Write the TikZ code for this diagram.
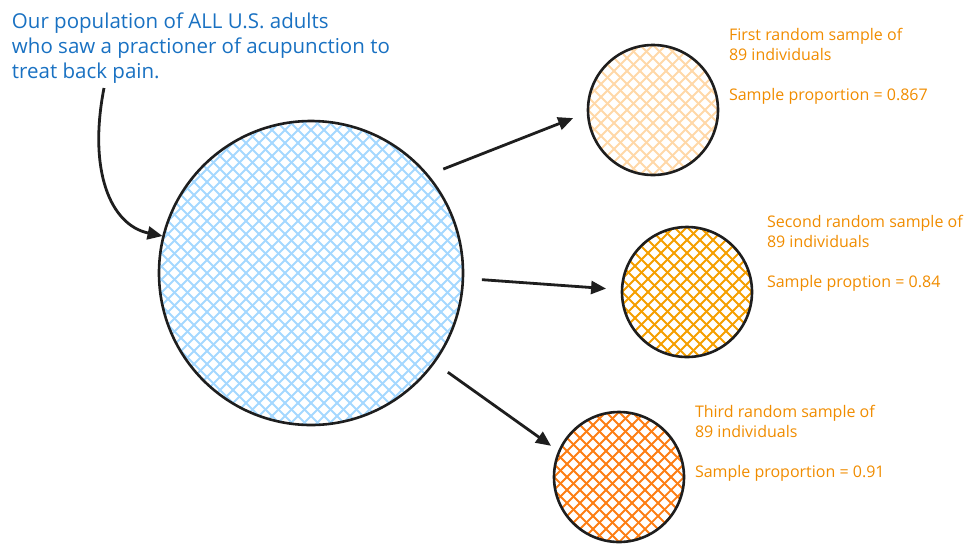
\documentclass[tikz,border=0pt]{standalone}
\usepackage{fontspec}
\setmainfont{Open Sans}
\usetikzlibrary{arrows.meta}
\definecolor{c1E1E1E}{RGB}{30,30,30}
\definecolor{cA5D8FF}{RGB}{165,216,255}
\definecolor{cFFD8A8}{RGB}{255,216,168}
\definecolor{cF59F00}{RGB}{245,159,0}
\definecolor{cFD7E14}{RGB}{253,126,20}
\definecolor{cF08C00}{RGB}{240,140,0}
\definecolor{c1971C2}{RGB}{25,113,194}
\tikzset{
  hatch/.style={path picture={
    \foreach \k in {-338,-325,...,338} {
      \path[draw=#1,line width=1.8pt,shift={(path picture bounding box.center)}]
        (\k-330,-330) -- (\k+330,330) (\k-330,330) -- (\k+330,-330);
    }}},
  sample/.style={circle,draw=c1E1E1E,line width=2.6pt,minimum size=130pt,hatch=#1},
  link/.style={draw=c1E1E1E,line width=2.8pt,-{Triangle[length=15pt,width=13pt]}},
  sampletext/.style={anchor=base west,align=left,text=cF08C00,
    font=\fontsize{16}{20}\selectfont},
}
\begin{document}
\begin{tikzpicture}[y=1pt,x=1pt,yscale=-1, inner sep=0pt, outer sep=0pt]
  \useasboundingbox (0,0) rectangle (971,550);
  % population and the three samples
  \node[circle,draw=c1E1E1E,line width=2.6pt,minimum size=304pt,hatch=cA5D8FF]
    (pop) at (311,273) {};
  \node[sample=cFFD8A8] (first) at (653,110) {};
  \node[sample=cF59F00] (second) at (687,292) {};
  \node[sample=cFD7E14] (third) at (619,477) {};
  % texts (base west is the last line)
  \node[anchor=base west,align=left,text=c1971C2,font=\fontsize{20.5}{25}\selectfont]
    (note) at (12,78) {Our population of ALL U.S. adults\\who saw a practioner of acupunction to\\treat back pain.};
  \node[sampletext] (firsttext) at (729,100)
    {First random sample of\\89 individuals\\[20pt]Sample proportion = 0.867};
  \node[sampletext] (secondtext) at (767,287)
    {Second random sample of\\89 individuals\\[20pt]Sample proption = 0.84};
  \node[sampletext] (thirdtext) at (695,477)
    {Third random sample of\\89 individuals\\[20pt]Sample proportion = 0.91};
  % arrows
  \coordinate (tail) at (104,88);
  \path[link,shorten >=1pt] (tail) .. controls (88,170) and (110,225) .. (pop.166);
  \path[link,shorten <=17pt,shorten >=16pt] (pop.40) -- (first.182);
  \path[link,shorten <=19pt,shorten >=16pt] (pop.358) -- (second.178);
  \path[link,shorten <=17pt,shorten >=10pt] (pop.324) -- (third.157);
\end{tikzpicture}
\end{document}
